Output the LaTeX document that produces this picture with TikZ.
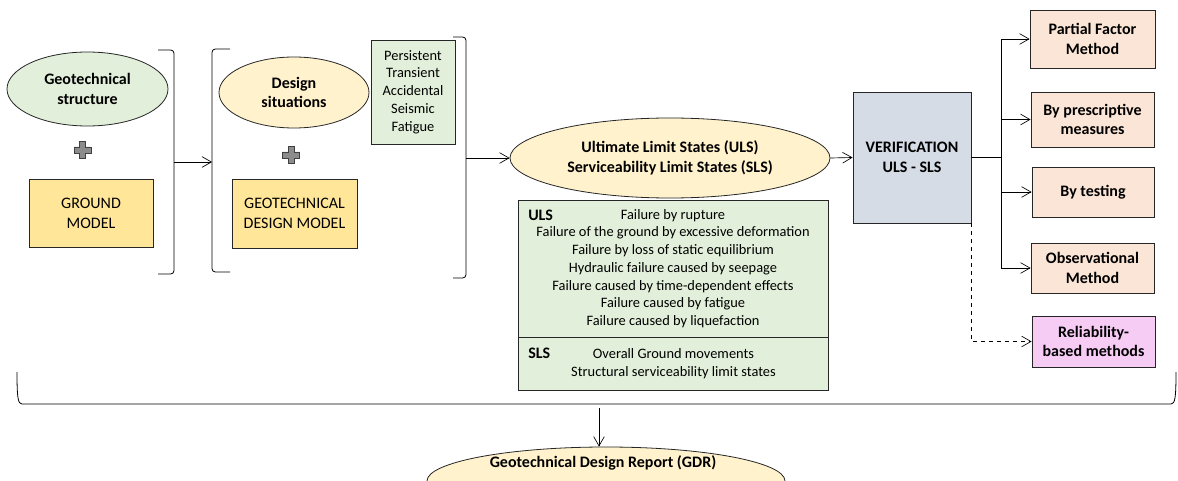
\documentclass[tikz,border=0pt]{standalone}
\usepackage{fontspec}
\setmainfont{Carlito}
\usetikzlibrary{shapes.geometric,arrows.meta}

\definecolor{lgreen}{HTML}{E2EFDA}
\definecolor{lyellow}{HTML}{FFF2CC}
\definecolor{gold}{HTML}{FFE699}
\definecolor{bluegray}{HTML}{D6DCE5}
\definecolor{peach}{HTML}{FBE5D6}
\definecolor{pinkish}{HTML}{F6CCF4}

\tikzset{
  oval/.style={ellipse,draw=black!85,line width=0.6pt,inner sep=0pt,align=center,font=\fontsize{12}{14.8}\selectfont\bfseries},
  rbox/.style={rectangle,draw=black!85,line width=0.6pt,inner sep=0pt,align=center,font=\fontsize{12}{14.8}\selectfont},
  bbox/.style={rbox,font=\fontsize{12}{14.8}\selectfont\bfseries},
  listbox/.style={rbox,font=\fontsize{10.8}{13.3}\selectfont},
  tag/.style={inner sep=0pt,anchor=west,font=\fontsize{12}{14}\selectfont\bfseries},
  arr/.style={-{Straight Barb[length=7pt,width=8pt]},line width=0.5pt},
  brk/.style={line width=0.6pt,rounded corners=2.5pt},
}

\begin{document}
\begin{tikzpicture}[x=0.75pt,y=0.75pt,yscale=-1]
	\useasboundingbox (0,0) rectangle (1178,481);
	\clip (0,0) rectangle (1178,481);
	
	%Shape: Ellipse
	\node [oval,fill=lgreen,minimum width=120.75pt,minimum height=55.5pt] (geostr) at (87.5,89) {Geotechnical\\structure};
	%Shape: Rectangle
	\node [rbox,fill=gold,minimum width=93pt,minimum height=51pt] (ground) at (91,213) {GROUND\\MODEL};
	%Shape: Ellipse
	\node [oval,fill=lyellow,minimum width=112.5pt,minimum height=53.25pt] (dessit) at (294,92.5) {Design\\situations};
	%Shape: Rectangle
	\node [rbox,fill=gold,minimum width=93.75pt,minimum height=51.75pt] (gdm) at (294.5,213.5) {GEOTECHNICAL\\DESIGN MODEL};
	%Shape: Rectangle
	\node [listbox,fill=lgreen,minimum width=63pt,minimum height=78pt] (sits) at (413,92) {Persistent\\Transient\\Accidental\\Seismic\\Fatigue};
	%Shape: Ellipse
	\node [oval,fill=lyellow,minimum width=240pt,minimum height=60pt] (ls) at (670,158) {Ultimate Limit States (ULS)\\Serviceability Limit States (SLS)};
	%Shape: Rectangle
	\node [listbox,fill=lgreen,minimum width=232.5pt,minimum height=102.75pt] (ulsbox) at (673,268.5) {Failure by rupture\\Failure of the ground by excessive deformation\\Failure by loss of static equilibrium\\Hydraulic failure caused by seepage\\Failure caused by time-dependent effects\\Failure caused by fatigue\\Failure caused by liquefaction};
	%Shape: Rectangle
	\node [listbox,fill=lgreen,minimum width=232.5pt,minimum height=39.75pt] (slsbox) at (673.5,364) {Overall Ground movements\\Structural serviceability limit states};
	%Shape: Rectangle
	\node [bbox,fill=bluegray,minimum width=88.5pt,minimum height=98.25pt] (verif) at (912,157.5) {VERIFICATION\\ULS - SLS};
	%Shape: Rectangle
	\node [bbox,fill=peach,minimum width=93.75pt,minimum height=43.5pt] (partial) at (1092.5,39) {Partial Factor\\Method};
	%Shape: Rectangle
	\node [bbox,fill=peach,minimum width=92.25pt,minimum height=41.25pt] (prescr) at (1092.5,119.5) {By prescriptive\\measures};
	%Shape: Rectangle
	\node [bbox,fill=peach,minimum width=91.5pt,minimum height=37.5pt] (testing) at (1093,192) {By testing};
	%Shape: Rectangle
	\node [bbox,fill=peach,minimum width=92.25pt,minimum height=37.5pt] (observ) at (1092.5,268) {Observational\\Method};
	%Shape: Rectangle
	\node [bbox,fill=pinkish,minimum width=92.25pt,minimum height=38.25pt] (reliab) at (1093.5,341.5) {Reliability-\\based methods};
	%Shape: Ellipse
	\node [oval,fill=lyellow,minimum width=268.5pt,minimum height=51pt] (gdr) at (606,481) {};
	
	% Text Node
	\node [tag] (ulstag) at (528,215.5) {ULS};
	% Text Node
	\node [tag] (slstag) at (528,353) {SLS};
	% Text Node
	\node [inner sep=0pt,font=\fontsize{12}{14}\selectfont\bfseries] (gdrtext) at (603,463) {Geotechnical Design Report (GDR)};
	
	%Shape: Plus
	\filldraw [fill=black!45,draw=black!75,line width=0.5pt] (79.5,141.5) -- ++(6,0) -- ++(0,5.5) -- ++(5.5,0) -- ++(0,6) -- ++(-5.5,0) -- ++(0,5.5) -- ++(-6,0) -- ++(0,-5.5) -- ++(-5.5,0) -- ++(0,-6) -- ++(5.5,0) -- cycle ;
	%Shape: Plus
	\filldraw [fill=black!45,draw=black!75,line width=0.5pt] (288.3,146.5) -- ++(6,0) -- ++(0,5.5) -- ++(5.5,0) -- ++(0,6) -- ++(-5.5,0) -- ++(0,5.5) -- ++(-6,0) -- ++(0,-5.5) -- ++(-5.5,0) -- ++(0,-6) -- ++(5.5,0) -- cycle ;
	
	%Shape: Bracket
	\draw [brk] (158,50) -- (174,50) -- (174,274) -- (158,274) ;
	%Shape: Bracket
	\draw [brk] (230,49) -- (212,49) -- (212,272) -- (230,272) ;
	%Shape: Bracket
	\draw [brk] (453,37) -- (466,37) -- (466,278) -- (453,278) ;
	%Shape: Bracket
	\draw [line width=0.6pt] (17,372) .. controls (17,398) and (18,404) .. (22,404) -- (1171,404) .. controls (1175,404) and (1176,398) .. (1176,372) ;
	
	\coordinate (brk1) at (174,162);
	\coordinate (brk2) at (212,162);
	\coordinate (brk3) at (466,158);
	\coordinate (brc) at (599,408);
	\coordinate (fork) at (1001,157.5);
	
	%Straight Lines
	\draw [arr] (brk1) -- (brk2) ;
	%Straight Lines
	\draw [arr] (brk3) -- (ls.west) ;
	%Straight Lines
	\draw [arr] (ls.east) -- (verif.west) ;
	%Straight Lines
	\draw [line width=1pt] (verif.east) -- (fork) ;
	%Straight Lines
	\draw [line width=0.6pt] (fork |- partial.west) -- (fork |- observ.west) ;
	%Straight Lines
	\draw [arr] (fork |- partial.west) -- (partial.west) ;
	%Straight Lines
	\draw [arr] (fork |- prescr.west) -- (prescr.west) ;
	%Straight Lines
	\draw [arr] (fork |- testing.west) -- (testing.west) ;
	%Straight Lines
	\draw [arr] (fork |- observ.west) -- (observ.west) ;
	%Straight Lines
	\draw [arr,dashed] (verif.south east) |- (reliab.west) ;
	%Straight Lines
	\draw [arr] (brc) -- (brc |- gdr.north) ;
	
\end{tikzpicture}
\end{document}
